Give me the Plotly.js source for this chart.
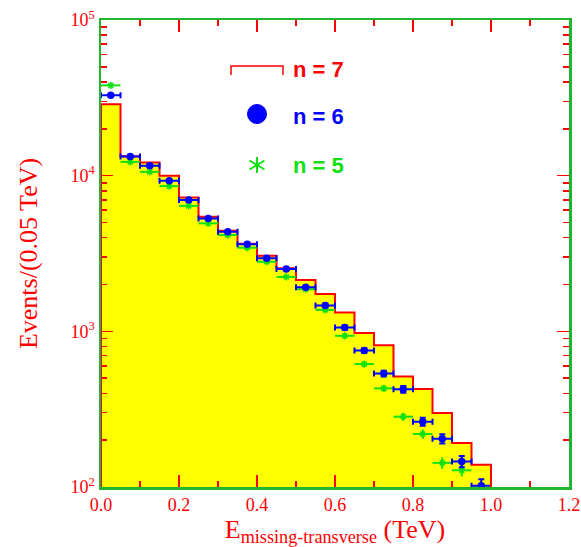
<!DOCTYPE html>
<html>
<head>
<meta charset="utf-8">
<script src="https://cdn.plot.ly/plotly-3.0.1.min.js"></script>
<style>html,body{margin:0;padding:0;background:#fff;}#chart{width:581px;height:547px;}</style>
</head>
<body>
<div id="chart"></div>
<script>
// ---- data ----
const binWidth = 0.05;
const binCenters = [0.025,0.075,0.125,0.175,0.225,0.275,0.325,0.375,0.425,0.475,
                    0.525,0.575,0.625,0.675,0.725,0.775,0.825,0.875,0.925,0.975];
const n7 = [28730,13340,12150,9970,7250,5445,4430,3655,3060,2542,
            2138,1740,1320,974,815,513,426,299,192,139];
const n6 = [32800,13300,11560,9260,6970,5315,4360,3620,2945,2515,
            1920,1464,1058,753,536,424,263,204,146,102];
const n6err = [180,115,108,96,83,73,66,60,54,50,44,38,33,27,23,21,16,14,12,10];
const n5x = [0.025,0.075,0.125,0.175,0.225,0.275,0.325,0.375,0.425,0.475,
             0.525,0.575,0.625,0.675,0.725,0.775,0.825,0.875,0.925];
const n5 = [38030,12260,10580,8565,6400,4940,4155,3445,2800,2236,
            1864,1373,936,616,430,283,219,143,128];
const n5err = [195,111,103,93,80,70,64,59,53,47,43,37,31,25,21,17,15,12,11];
const xTickVals = [0,0.2,0.4,0.6,0.8,1.0,1.2];
const yTickVals = [100,1000,10000,100000];
const yTickText = ['10<sup>2</sup>','10<sup>3</sup>','10<sup>4</sup>','10<sup>5</sup>'];
const legendLabels = ['n = 7','n = 6','n = 5'];

// ---- colours ----
const RED = '#ff0000', BLUE = '#0000ff', GREEN = '#11e011', YELLOW = '#ffff00', FRAME = '#1fb52f';

// histogram outline polygon from bin edges (baseline below the visible range, clipped)
const base = 1;
const hx = [], hy = [];
hx.push(binCenters[0] - binWidth/2); hy.push(base);
binCenters.forEach((c,i) => {
  hx.push(c - binWidth/2); hy.push(n7[i]);
  hx.push(c + binWidth/2); hy.push(n7[i]);
});
hx.push(binCenters[binCenters.length-1] + binWidth/2); hy.push(base);

const traces = [
  {x: hx, y: hy, type: 'scatter', mode: 'lines', fill: 'toself', fillcolor: YELLOW,
   line: {color: RED, width: 2}, name: legendLabels[0], showlegend: false, hoverinfo: 'skip'},
  {x: n5x, y: n5, type: 'scatter', mode: 'markers', name: legendLabels[2], showlegend: false,
   marker: {symbol: 'asterisk-open', size: 6, color: GREEN, line: {color: GREEN, width: 1.5}},
   error_x: {type: 'constant', value: binWidth/2, color: GREEN, thickness: 2, width: 0},
   error_y: {type: 'data', array: n5err, color: GREEN, thickness: 2, width: 0}},
  {x: binCenters, y: n6, type: 'scatter', mode: 'markers', name: legendLabels[1], showlegend: false,
   marker: {symbol: 'circle', size: 7.5, color: BLUE},
   error_x: {type: 'constant', value: binWidth/2, color: BLUE, thickness: 2, width: 3},
   error_y: {type: 'data', array: n6err, color: BLUE, thickness: 2, width: 3}}
];

const W = 581, H = 547, mL = 101, mR = 12, mT = 20, mB = 60;
const pw = W - mL - mR, ph = H - mT - mB;
const px = v => (v - mL) / pw;        // pixel -> paper x (legend placement only)
const py = v => (H - mB - v) / ph;    // pixel -> paper y

const legendFont = {family: 'Liberation Sans, Arial, sans-serif', size: 22, weight: 'bold'};
const ac = 257, gy = 165;
const layout = {
  width: W, height: H,
  margin: {l: mL, r: mR, t: mT, b: mB, pad: 0},
  paper_bgcolor: '#ffffff', plot_bgcolor: '#ffffff',
  showlegend: false,
  font: {family: 'Liberation Serif, Times New Roman, serif', color: RED},
  xaxis: {
    range: [0, 1.2], tickvals: xTickVals, tickformat: '.1f',
    ticks: 'inside', ticklen: 12, tickwidth: 1.5, tickcolor: RED,
    minor: {dtick: 0.1, tick0: 0, ticks: 'inside', ticklen: 6, tickwidth: 1.5, tickcolor: RED, showgrid: false},
    showline: true, linecolor: FRAME, linewidth: 2.5, mirror: 'allticks',
    showgrid: false, zeroline: false,
    tickfont: {family: 'Liberation Serif, Times New Roman, serif', size: 18, color: RED},
    title: {text: 'E<sub>missing-transverse</sub> (TeV)', standoff: 4,
            font: {family: 'Liberation Serif, Times New Roman, serif', size: 26, color: RED}}
  },
  yaxis: {
    type: 'log', range: [2, 5], tickvals: yTickVals, ticktext: yTickText,
    ticks: 'inside', ticklen: 12, tickwidth: 1.5, tickcolor: RED,
    minor: {dtick: 'D1', ticks: 'inside', ticklen: 6, tickwidth: 1.5, tickcolor: RED, showgrid: false},
    showline: true, linecolor: FRAME, linewidth: 2.5, mirror: 'allticks',
    showgrid: false, zeroline: false,
    tickfont: {family: 'Liberation Serif, Times New Roman, serif', size: 18, color: RED},
    title: {text: 'Events/(0.05 TeV)', standoff: 26,
            font: {family: 'Liberation Serif, Times New Roman, serif', size: 26, color: RED}}
  },
  annotations: [
    {xref: 'paper', yref: 'paper', x: px(291), y: py(69), xanchor: 'left', yanchor: 'middle',
     text: legendLabels[0], showarrow: false, font: Object.assign({}, legendFont, {color: RED})},
    {xref: 'paper', yref: 'paper', x: px(291), y: py(116), xanchor: 'left', yanchor: 'middle',
     text: legendLabels[1], showarrow: false, font: Object.assign({}, legendFont, {color: BLUE})},
    {xref: 'paper', yref: 'paper', x: px(291), y: py(165), xanchor: 'left', yanchor: 'middle',
     text: legendLabels[2], showarrow: false, font: Object.assign({}, legendFont, {color: GREEN})}
  ],
  shapes: [
    {type: 'path', xref: 'paper', yref: 'paper',
     path: `M ${px(231)} ${py(75)} L ${px(231)} ${py(66)} L ${px(283)} ${py(66)} L ${px(283)} ${py(75)}`,
     line: {color: RED, width: 1.5}},
    {type: 'circle', xref: 'paper', yref: 'paper',
     x0: px(247.5), x1: px(266.5), y0: py(123.5), y1: py(104.5),
     fillcolor: BLUE, line: {color: BLUE, width: 1}},
    {type: 'line', xref: 'paper', yref: 'paper', x0: px(ac), x1: px(ac), y0: py(gy-8), y1: py(gy+8),
     line: {color: GREEN, width: 2}},
    {type: 'line', xref: 'paper', yref: 'paper', x0: px(ac-7.5), x1: px(ac+7.5), y0: py(gy-4.5), y1: py(gy+4.5),
     line: {color: GREEN, width: 2}},
    {type: 'line', xref: 'paper', yref: 'paper', x0: px(ac-7.5), x1: px(ac+7.5), y0: py(gy+4.5), y1: py(gy-4.5),
     line: {color: GREEN, width: 2}}
  ]
};

Plotly.newPlot('chart', traces, layout, {displayModeBar: false, staticPlot: true});
</script>
</body>
</html>
